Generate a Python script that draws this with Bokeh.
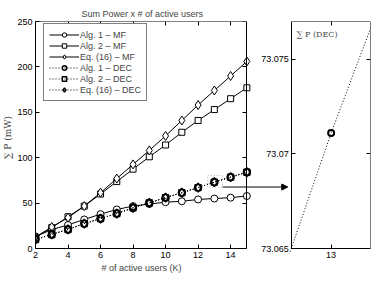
from bokeh.plotting import figure
from bokeh.models import (FixedTicker, LinearAxis, Legend, LegendItem, BoxAnnotation,
                          Arrow, NormalHead, Label, Range1d, CustomJSTickFormatter, Title)
from bokeh.embed import file_html
from bokeh.resources import INLINE

# ---------------- data ----------------
users = [2, 3, 4, 5, 6, 7, 8, 9, 10, 11, 12, 13, 14, 15]
alg1_mf = [13.3, 20.7, 26.0, 32.0, 37.8, 43.0, 46.7, 49.0, 51.0, 52.0, 54.0, 55.0, 56.0, 57.8]
alg2_mf = [12.0, 23.0, 35.0, 46.7, 60.0, 73.7, 87.4, 101.0, 114.0, 128.0, 141.0, 153.0, 165.0, 177.0]
eq16_mf = [12.6, 23.7, 34.0, 46.7, 61.5, 77.0, 92.6, 108.0, 124.0, 141.0, 158.0, 174.0, 190.0, 206.0]
alg1_dec = [10.0, 15.5, 21.0, 27.4, 33.0, 38.5, 44.8, 50.3, 56.0, 61.5, 67.05, 73.0711, 78.6, 84.0]
alg2_dec = [10.0, 15.5, 21.0, 27.4, 33.0, 38.5, 44.8, 50.3, 56.0, 61.5, 67.05, 73.0711, 78.6, 84.0]
eq16_dec = [10.0, 15.5, 21.0, 27.4, 33.0, 38.5, 44.8, 50.3, 56.0, 61.5, 67.05, 73.0711, 78.6, 84.0]
labels = ["Alg. 1 – MF", "Alg. 2 – MF", "Eq. (16) – MF",
          "Alg. 1 – DEC", "Alg. 2 – DEC", "Eq. (16) – DEC"]
main_x_ticks = [2, 4, 6, 8, 10, 12, 14]
main_y_ticks = [0, 50, 100, 150, 200, 250]
zoom_x_ticks = [13]
zoom_y_ticks = [73.065, 73.07, 73.075]
main_x_lim = (2, 15)
main_y_lim = (0, 250)
zoom_x_lim = (12.999, 13.001)
zoom_y_lim = (73.065, 73.077)
zoom_box_main = (12.59, 13.51, 67.5, 80.4)   # dotted box: left, right, bottom, top
arrow_y = 67.7

# ---------------- layout (pixels) ----------------
W, H = 378, 281
FL, FR, FT, FB = 34, 8, 21, 28          # borders around the shared frame
PAD_B = 5                                # frame extends below the axes boxes
FRAME_W = W - FL - FR                    # 336
BOX_H = H - FT - FB - PAD_B              # 227
MAIN_BOX_W = 212
ZOOM_BOX_X = 257
ZOOM_BOX_W = FRAME_W - ZOOM_BOX_X        # 79

mx_per_px = (main_x_lim[1] - main_x_lim[0]) / MAIN_BOX_W
zx_per_px = (zoom_x_lim[1] - zoom_x_lim[0]) / ZOOM_BOX_W
my_per_px = (main_y_lim[1] - main_y_lim[0]) / BOX_H
zy_per_px = (zoom_y_lim[1] - zoom_y_lim[0]) / BOX_H
main_x_range = Range1d(main_x_lim[0], main_x_lim[0] + FRAME_W * mx_per_px)
main_y_range = Range1d(main_y_lim[0] - PAD_B * my_per_px, main_y_lim[1])
zoom_x_range = Range1d(zoom_x_lim[0] - ZOOM_BOX_X * zx_per_px, zoom_x_lim[1])
zoom_y_range = Range1d(zoom_y_lim[0] - PAD_B * zy_per_px, zoom_y_lim[1])

def zoom_x_in_main(v):
    return main_x_lim[0] + (ZOOM_BOX_X + (v - zoom_x_lim[0]) / zx_per_px) * mx_per_px

SANS = "Liberation Sans"
SERIF = "DejaVu Serif"
FS = "9px"
BLANK = CustomJSTickFormatter(code="return '';")

p = figure(width=W, height=H, output_backend="svg", toolbar_location=None,
           x_range=main_x_range, y_range=main_y_range,
           min_border_left=FL, min_border_right=FR, min_border_top=FT, min_border_bottom=FB,
           x_axis_location=None, y_axis_location=None)
p.extra_x_ranges = {"zx": zoom_x_range}
p.extra_y_ranges = {"zy": zoom_y_range}
p.grid.visible = False
p.outline_line_color = None

def mk_axis(ticks, bounds, labelled=True, **kw):
    ax = LinearAxis(ticker=FixedTicker(ticks=ticks), bounds=bounds,
                    major_tick_in=4, major_tick_out=0, minor_tick_line_color=None,
                    axis_line_color="black", axis_line_width=1,
                    major_tick_line_color="black",
                    major_label_text_font=SANS, major_label_text_font_size=FS,
                    major_label_text_color="black", major_label_standoff=3, **kw)
    if not labelled:
        ax.formatter = BLANK
        ax.major_label_standoff = 0
    return ax

# ---- main axes ----
x_lab_ticks = main_x_ticks + [zoom_x_in_main(t) for t in zoom_x_ticks]
xb = mk_axis(x_lab_ticks, "auto",
             formatter=CustomJSTickFormatter(args=dict(lim=main_x_lim[1], zl=str(zoom_x_ticks[0])),
                                             code="return tick > lim ? zl : tick.toFixed(0);"))
xb.axis_line_color = None
xb.major_tick_line_color = None
xb.major_label_standoff = -2
p.add_layout(xb, "below")
p.add_layout(Title(text="# of active users (K)", align="left", offset=66, text_font=SANS,
                   text_font_size=FS, text_font_style="normal", standoff=0), "below")
yl = mk_axis(main_y_ticks, main_y_lim, axis_label="∑ P (mW)",
             axis_label_text_font=SERIF, axis_label_text_font_size="9px",
             axis_label_text_font_style="normal", axis_label_standoff=1)
p.add_layout(yl, "left")
p.add_layout(mk_axis(main_x_ticks, main_x_lim, labelled=False, fixed_location=main_y_lim[0]), "below")
p.add_layout(mk_axis(main_x_ticks, main_x_lim, labelled=False, fixed_location=main_y_lim[1]), "above")
p.add_layout(mk_axis(main_y_ticks, main_y_lim, labelled=False, fixed_location=main_x_lim[1]), "right")

# ---- zoom axes ----
zfmt = CustomJSTickFormatter(code="return parseFloat(tick.toFixed(4)).toString();")
zk = dict(x_range_name="zx", y_range_name="zy")
p.add_layout(mk_axis(zoom_x_ticks, zoom_x_lim, labelled=False, fixed_location=zoom_y_lim[0], **zk), "below")
p.add_layout(mk_axis(zoom_y_ticks, zoom_y_lim, fixed_location=zoom_x_lim[0], formatter=zfmt, **zk), "left")
p.add_layout(mk_axis(zoom_x_ticks, zoom_x_lim, labelled=False, fixed_location=zoom_y_lim[1], **zk), "above")
p.add_layout(mk_axis(zoom_y_ticks, zoom_y_lim, labelled=False, fixed_location=zoom_x_lim[1], **zk), "right")

# ---- title ----
p.title.text = "Sum Power x # of active users"
p.title.align = "left"
p.title.offset = 46
p.title.text_font = SANS
p.title.text_font_size = FS
p.title.text_font_style = "normal"
p.title.standoff = 5

# ---- main series ----
series = [(alg1_mf, "circle", 7, None), (alg2_mf, "square", 6, None), (eq16_mf, "diamond", 9, None),
          (alg1_dec, "circle", 7, "1 2"), (alg2_dec, "square", 6, "1 2"), (eq16_dec, "diamond", 9, "1 2")]
items = []
for (ys, mk, sz, dash), lab in zip(series, labels):
    if dash:
        l = p.line(users, ys, line_color="black", line_width=1, line_dash=dash)
        s = p.scatter(users, ys, marker=mk, size=sz, line_color="black", line_width=1.4,
                      fill_alpha=0)
    else:
        l = p.line(users, ys, line_color="black", line_width=1)
        s = p.scatter(users, ys, marker=mk, size=sz, line_color="black", line_width=1,
                      fill_color="white")
    items.append(LegendItem(label=lab, renderers=[l, s]))

LEG_H = 2 * 5 + 6 * 11
legend = Legend(items=items, location=(8, BOX_H + PAD_B - 4 - LEG_H), label_text_font=SANS,
                label_text_font_size=FS, glyph_width=30, glyph_height=11, label_height=11,
                spacing=0, padding=5, label_standoff=1, border_line_color="black",
                border_line_width=1, background_fill_color="white", background_fill_alpha=1,
                margin=0)
p.add_layout(legend, "center")

# ---- zoom series (clipped by the shared frame) ----
p.line(users, alg1_dec, line_color="black", line_width=1, line_dash="1 2", **zk)
p.scatter(users, alg1_dec, marker="circle", size=6, line_color="black", line_width=2,
          fill_alpha=0, **zk)
p.add_layout(Label(x=zoom_x_lim[0], y=zoom_y_lim[1], x_offset=5, y_offset=-8, text="∑ P (DEC)",
                   text_font=SERIF, text_font_size="8px", text_baseline="top", **zk))

# ---- dotted zoom box and connecting arrow ----
bl, br, bb, bt = zoom_box_main
p.add_layout(BoxAnnotation(left=bl, right=br, bottom=bb, top=bt, fill_alpha=0,
                           line_color="black", line_dash="1 2", line_width=1))
arrow_end = main_x_lim[0] + (ZOOM_BOX_X - 4) * mx_per_px
p.add_layout(Arrow(x_start=br, y_start=arrow_y, x_end=arrow_end, y_end=arrow_y,
                   line_color="black", line_width=1,
                   end=NormalHead(size=6, fill_color="black", line_color="black", line_width=1)))

open("out.html", "w").write(file_html(p, INLINE))
